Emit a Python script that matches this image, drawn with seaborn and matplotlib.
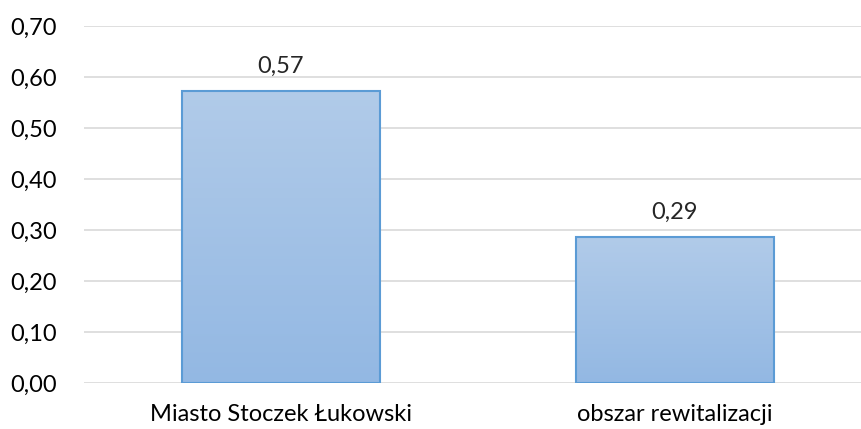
import numpy as np
import pandas as pd
import seaborn as sns
import matplotlib
matplotlib.use('Agg')
import matplotlib.pyplot as plt
from matplotlib.colors import LinearSegmentedColormap

categories = ["Miasto Stoczek Łukowski", "obszar rewitalizacji"]
values = [0.573, 0.286]
y_ticks = [0.0, 0.1, 0.2, 0.3, 0.4, 0.5, 0.6, 0.7]

df = pd.DataFrame({"kategoria": categories, "wartosc": values})

sns.set_style("white")
plt.rcParams['font.family'] = ['Lato', 'DejaVu Sans']

W, H = 861, 429
fig = plt.figure(figsize=(W / 100, H / 100), dpi=100)
# right edge runs past the picture, like the cropped original
ax = fig.add_axes([84 / W, (H - 383) / H, (872 - 84) / W, (383 - 26) / H])

sns.barplot(data=df, x="kategoria", y="wartosc", ax=ax, width=0.503,
            color="#A3C1E6", edgecolor="#5B9BD5", linewidth=1.5, zorder=3)

ax.set_ylim(0, 0.7)
ax.set_xlim(-0.5, 1.5)
ax.set_yticks(y_ticks)
ax.set_yticklabels([f"{t:.2f}".replace(".", ",") for t in y_ticks])
ax.set_xlabel("")
ax.set_ylabel("")
ax.grid(axis="y", color="#D9D9D9", linewidth=1.2, zorder=0)
for s in ax.spines.values():
    s.set_visible(False)
ax.tick_params(axis="y", length=0, pad=19.5, labelsize=17, colors="black")
ax.tick_params(axis="x", length=0, pad=15, labelsize=17, colors="black")

# gradient fill inside each bar
cmap = LinearSegmentedColormap.from_list("grad", ["#93B8E3", "#B1CBE9"])
grad = np.linspace(0, 1, 256).reshape(-1, 1)
for p in ax.patches:
    x0, y0 = p.get_x(), p.get_y()
    w, h = p.get_width(), p.get_height()
    im = ax.imshow(grad, cmap=cmap, aspect="auto", origin="lower",
                   extent=[x0, x0 + w, y0, y0 + h], zorder=3.5)
    im.set_clip_path(p)
    p.set_facecolor("none")
    p.set_zorder(4)

for i, v in enumerate(values):
    ax.annotate(f"{v:.2f}".replace(".", ","), (i, v), xytext=(0, 10),
                textcoords="offset points", ha="center", va="bottom", fontsize=17)

ax.set_xlim(-0.5, 1.5)
ax.set_ylim(0, 0.7)

fig.savefig("out.png", dpi=100)
